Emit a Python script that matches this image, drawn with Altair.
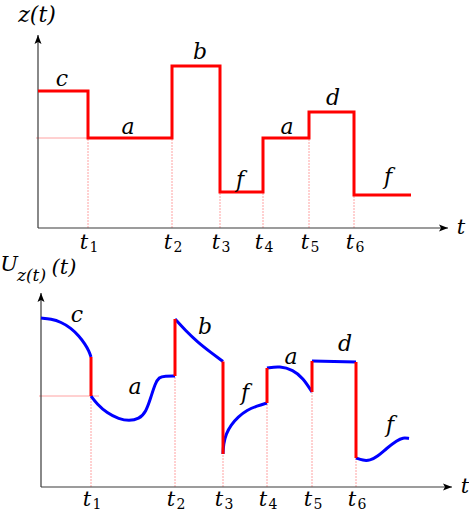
import altair as alt
import pandas as pd

# ---------------- top panel: piecewise-constant z(t) ----------------
t_switch_top = [50, 134, 182, 225, 271, 316]
t_start, t_end_top = 0, 373
z_levels = [137, 90, 162, 36, 90, 116, 33]
seg_labels = ["c", "a", "b", "f", "a", "d", "f"]
lab_top_x = [24, 90, 162, 202, 249, 295, 350]
lab_top_y = [149, 101, 176, 48, 101, 130, 51]
tick_names = ["1", "2", "3", "4", "5", "6"]

# ---------------- bottom panel: U_{z(t)}(t) ----------------
t_switch_bot = [50, 134, 182, 226, 271, 315]
cur_c_t = [0, 10, 20, 30, 38, 44, 48, 50]
cur_c_u = [169, 168, 165, 159, 151, 143, 136, 130]
cur_a_t = [50, 56, 66, 78, 88, 98, 105, 110, 114, 118, 124, 134]
cur_a_u = [91, 83, 74, 68, 66, 68, 75, 90, 103, 110, 111, 111]
cur_b_t = [134, 144, 157, 170, 182]
cur_b_u = [168, 157, 144.5, 134.5, 125.5]
cur_f_t = [182, 182.5, 185, 190, 197, 206, 216, 226]
cur_f_u = [33, 43, 53, 62, 70, 77, 81, 84]
cur_a2_t = [226, 239, 252, 262, 271]
cur_a2_u = [119, 121, 117, 109, 95]
cur_d_t = [271, 315]
cur_d_u = [126, 125]
cur_f2_t = [315, 322, 329, 336, 346, 356, 362, 368]
cur_f2_u = [29, 26.5, 26.5, 30, 39, 46.5, 49.5, 48.5]
lab_bot_x = [36, 94, 164, 204, 250, 304, 349]
lab_bot_y = [172, 100, 160, 94, 130, 143, 62]

# axis extents (arrow tips)
x_tip_top, y_tip_top = 410, 193
x_tip_bot, y_tip_bot = 411, 194

# ---------------- scales ----------------
XT = alt.Scale(domain=[0, 420], range=[38, 458], nice=False, zero=False)
YT = alt.Scale(domain=[0, 200], range=[228, 28], nice=False, zero=False)
XB = alt.Scale(domain=[0, 420], range=[41, 461], nice=False, zero=False)
YB = alt.Scale(domain=[0, 200], range=[487, 287], nice=False, zero=False)

FONT = "DejaVu Serif"
RED = "#ff0000"
BLUE = "#0000ff"
FAINT = "#ff8c8c"
UP = "M0,0L0.7,1.8L0,1.4L-0.7,1.8Z"
RIGHT = "M0,0L-1.8,-0.7L-1.4,0L-1.8,0.7Z"


def enc(xs, ys, x="x", y="y", x2=None, y2=None):
    e = dict(x=alt.X(x, type="quantitative", scale=xs, axis=None),
             y=alt.Y(y, type="quantitative", scale=ys, axis=None))
    if x2:
        e["x2"] = alt.X2(x2)
    if y2:
        e["y2"] = alt.Y2(y2)
    return e


def panel_common(xs, ys, x_tip, y_tip, switches, lbl_y):
    axes = pd.DataFrame({"x": [0, 0], "x2": [x_tip, 0], "y": [0, 0], "y2": [0, y_tip]})
    ax = alt.Chart(axes).mark_rule(color="#3a3a3a", strokeWidth=1.2).encode(
        **enc(xs, ys, x2="x2", y2="y2"))
    up = alt.Chart(pd.DataFrame({"x": [0], "y": [y_tip]})).mark_point(
        shape=UP, filled=True, color="black", size=100, opacity=1).encode(**enc(xs, ys))
    rt = alt.Chart(pd.DataFrame({"x": [x_tip], "y": [0]})).mark_point(
        shape=RIGHT, filled=True, color="black", size=100, opacity=1).encode(**enc(xs, ys))
    tdf = pd.DataFrame({"x": switches, "y": [lbl_y] * len(switches), "n": tick_names})
    tt = alt.Chart(tdf).mark_text(font=FONT, fontStyle="italic", fontSize=21, dx=-4,
                                  baseline="middle", color="black").encode(
        **enc(xs, ys), text=alt.value("t"))
    tn = alt.Chart(tdf).mark_text(font=FONT, fontSize=14, dx=6, dy=5,
                                  baseline="middle", color="black").encode(
        **enc(xs, ys), text="n:N")
    tend = alt.Chart(pd.DataFrame({"x": [x_tip + 13], "y": [0]})).mark_text(
        font=FONT, fontStyle="italic", fontSize=21, baseline="middle", color="black").encode(
        **enc(xs, ys), text=alt.value("t"))
    return [ax, up, rt, tt, tn, tend]


# ---------------- top layers ----------------
drop_top = [min(z_levels[i], z_levels[i + 1]) for i in range(len(t_switch_top))]
dtop = pd.DataFrame({"x": t_switch_top, "y": [0] * 6, "y2": drop_top})
top_drop = alt.Chart(dtop).mark_rule(color=FAINT, strokeWidth=0.8, strokeDash=[2, 1]).encode(
    **enc(XT, YT, y2="y2"))
top_h = alt.Chart(pd.DataFrame({"x": [-2], "x2": [t_switch_top[0]], "y": [z_levels[1]]})).mark_rule(
    color=FAINT, strokeWidth=0.8).encode(**enc(XT, YT, x2="x2"))
step_df = pd.DataFrame({"x": [t_start] + t_switch_top + [t_end_top],
                        "y": z_levels + [z_levels[-1]]})
top_step = alt.Chart(step_df).mark_line(color=RED, strokeWidth=3, interpolate="step-after").encode(
    **enc(XT, YT))
top_lab = alt.Chart(pd.DataFrame({"x": lab_top_x, "y": lab_top_y, "s": seg_labels})).mark_text(
    font=FONT, fontStyle="italic", fontSize=22, baseline="middle", color="black").encode(
    **enc(XT, YT), text="s:N")
top_title = alt.Chart(pd.DataFrame({"x": [-1], "y": [213]})).mark_text(
    font=FONT, fontStyle="italic", fontSize=22, baseline="middle", color="black").encode(
    **enc(XT, YT), text=alt.value("z(t)"))

top = alt.layer(top_drop, top_h, *panel_common(XT, YT, x_tip_top, y_tip_top, t_switch_top, -15),
                top_step, top_lab, top_title)

# ---------------- bottom layers ----------------
curves = [(cur_c_t, cur_c_u), (cur_a_t, cur_a_u), (cur_b_t, cur_b_u), (cur_f_t, cur_f_u),
          (cur_a2_t, cur_a2_u), (cur_d_t, cur_d_u), (cur_f2_t, cur_f2_u)]
rows = []
for k, (ts, us) in enumerate(curves):
    for i, (t, u) in enumerate(zip(ts, us)):
        rows.append({"x": t, "y": u, "seg": k, "i": i})
cdf = pd.DataFrame(rows)
jumps = pd.DataFrame({"x": t_switch_bot,
                      "y": [curves[i][1][-1] for i in range(6)],
                      "y2": [curves[i + 1][1][0] for i in range(6)]})
drops = pd.DataFrame({"x": t_switch_bot, "y": [0] * 6,
                      "y2": [min(a, b) for a, b in zip(jumps["y"], jumps["y2"])]})
bot_drop = alt.Chart(drops).mark_rule(color=FAINT, strokeWidth=0.8, strokeDash=[2, 1]).encode(
    **enc(XB, YB, y2="y2"))
bot_h = alt.Chart(pd.DataFrame({"x": [-2], "x2": [58], "y": [cur_a_u[0]]})).mark_rule(
    color=FAINT, strokeWidth=0.8).encode(**enc(XB, YB, x2="x2"))
bot_curves = alt.Chart(cdf).mark_line(color=BLUE, strokeWidth=3, interpolate="basis").encode(
    **enc(XB, YB), detail="seg:N", order="i:Q")
bot_jumps = alt.Chart(jumps).mark_rule(color=RED, strokeWidth=3).encode(**enc(XB, YB, y2="y2"))
bot_lab = alt.Chart(pd.DataFrame({"x": lab_bot_x, "y": lab_bot_y, "s": seg_labels})).mark_text(
    font=FONT, fontStyle="italic", fontSize=22, baseline="middle", color="black").encode(
    **enc(XB, YB), text="s:N")
ttl = pd.DataFrame({"x": [-32, -9.5, 23], "y": [222, 211, 219], "s": ["U", "z(t)", "(t)"],
                    "fs": [21, 17, 21]})
bot_title = alt.Chart(ttl).mark_text(font=FONT, fontStyle="italic", baseline="middle",
                                     color="black").encode(
    **enc(XB, YB), text="s:N", size=alt.Size("fs:Q", scale=None, legend=None))

bot = alt.layer(bot_drop, bot_h, *panel_common(XB, YB, x_tip_bot, y_tip_bot, t_switch_bot, -13),
                bot_curves, bot_jumps, bot_lab, bot_title)

chart = alt.layer(top, bot).resolve_scale(x="independent", y="independent").properties(
    width=469, height=513, autosize=alt.AutoSizeParams(type="none"), padding=0,
    background="white").configure_view(stroke=None)

chart.save("out.html", embed_options={"renderer": "svg", "actions": False})
